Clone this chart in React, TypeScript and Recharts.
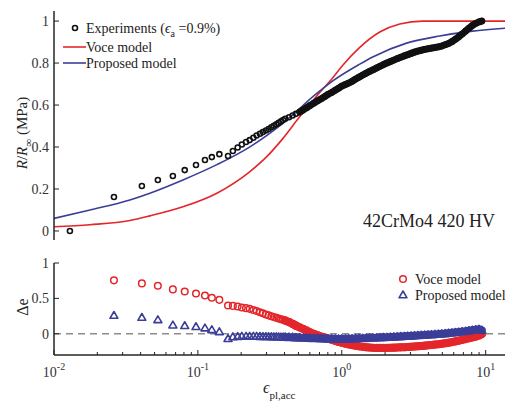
import React from 'react';
import { ComposedChart, Line, Scatter, XAxis, YAxis, ReferenceLine, Legend } from 'recharts';

const RED = '#e4262b';
const BLUE = '#3b3e98';
const INK = '#222';
const FONT = '"Liberation Serif", "Times New Roman", serif';

// experiments, sparse start (strain, R/Rinf)
const expStrainSparse = [0.0129, 0.0261, 0.0408, 0.0527, 0.067, 0.081, 0.097, 0.112, 0.125, 0.141];
const expRSparse = [0.0, 0.162, 0.214, 0.243, 0.262, 0.29, 0.314, 0.338, 0.352, 0.366];

// experiments, dense part
const denseStrain = [
  0.162, 0.175, 0.189, 0.202, 0.216, 0.229, 0.243, 0.256, 0.27, 0.283,
  0.297, 0.31, 0.324, 0.337, 0.351, 0.364, 0.378, 0.391, 0.405, 0.43,
  0.455, 0.48, 0.51, 0.54, 0.57, 0.6, 0.64, 0.68, 0.72, 0.76,
  0.8, 0.85, 0.9, 0.95, 1.0, 1.06, 1.12, 1.18, 1.25, 1.32,
  1.4, 1.48, 1.56, 1.65, 1.75, 1.85, 1.95, 2.06, 2.18, 2.3,
  2.43, 2.57, 2.72, 2.87, 3.03, 3.2, 3.38, 3.57, 3.77, 3.98,
  4.2, 4.44, 4.69, 4.95, 5.23, 5.52, 5.83, 6.15, 6.5, 6.86,
  7.25, 7.65, 8.08, 8.53, 9.0, 9.4,
];
const expRDense = [
  0.357, 0.381, 0.398, 0.412, 0.424, 0.433, 0.444, 0.455, 0.463, 0.471,
  0.479, 0.486, 0.494, 0.501, 0.508, 0.515, 0.522, 0.529, 0.535, 0.542,
  0.55, 0.558, 0.567, 0.577, 0.587, 0.597, 0.609, 0.62, 0.63, 0.64,
  0.65, 0.66, 0.67, 0.68, 0.69, 0.698, 0.705, 0.713, 0.724, 0.733,
  0.743, 0.752, 0.76, 0.768, 0.777, 0.785, 0.793, 0.8, 0.807, 0.814,
  0.821, 0.828, 0.834, 0.84, 0.846, 0.852, 0.857, 0.861, 0.865, 0.868,
  0.871, 0.874, 0.877, 0.881, 0.887, 0.893, 0.902, 0.913, 0.925, 0.938,
  0.952, 0.966, 0.979, 0.989, 0.996, 1.0,
];

// model curves
const voceStrain = [0.01, 0.0178, 0.0337, 0.0464, 0.0787, 0.1355, 0.23, 0.301, 0.389, 0.511, 0.571, 0.67, 0.866, 1.016, 1.334, 1.837, 2.53, 3.65, 6, 15];
const voceR = [0.02, 0.03, 0.05, 0.072, 0.115, 0.18, 0.283, 0.354, 0.44, 0.545, 0.585, 0.643, 0.73, 0.79, 0.875, 0.948, 0.986, 1.0, 1.0, 1.0];
const propStrain = [0.01, 0.0178, 0.0337, 0.0464, 0.0787, 0.1355, 0.23, 0.389, 0.67, 0.866, 1.334, 1.64, 2.82, 4.79, 8.1, 15];
const propR = [0.06, 0.1, 0.148, 0.18, 0.243, 0.316, 0.401, 0.513, 0.655, 0.715, 0.795, 0.829, 0.895, 0.929, 0.952, 0.968];

// relative error, sparse start (no point at the first strain)
const deStrainSparse = [0.0261, 0.0408, 0.0527, 0.067, 0.081, 0.097, 0.112, 0.125, 0.141];
const deVoceSparse = [0.755, 0.712, 0.678, 0.627, 0.598, 0.57, 0.54, 0.51, 0.479];
const dePropSparse = [0.258, 0.23, 0.197, 0.122, 0.113, 0.099, 0.08, 0.056, 0.028];

// relative error, dense part (same strains as denseStrain)
const deVoceDense = [
  0.4, 0.394, 0.385, 0.372, 0.362, 0.352, 0.335, 0.322, 0.305, 0.29,
  0.272, 0.26, 0.248, 0.236, 0.225, 0.215, 0.205, 0.197, 0.186, 0.165,
  0.14, 0.115, 0.09, 0.068, 0.045, 0.022, -0.002, -0.022, -0.038, -0.052,
  -0.066, -0.085, -0.1, -0.115, -0.127, -0.14, -0.15, -0.16, -0.17, -0.178,
  -0.185, -0.19, -0.195, -0.198, -0.2, -0.2, -0.2, -0.2, -0.198, -0.196,
  -0.194, -0.192, -0.19, -0.187, -0.184, -0.18, -0.177, -0.173, -0.168, -0.163,
  -0.158, -0.153, -0.148, -0.142, -0.135, -0.127, -0.118, -0.108, -0.097, -0.086,
  -0.075, -0.063, -0.052, -0.04, -0.025, -0.005,
];
const dePropDense = [
  -0.07, -0.045, -0.04, -0.038, -0.036, -0.036, -0.037, -0.038, -0.039, -0.04,
  -0.041, -0.042, -0.043, -0.044, -0.045, -0.046, -0.047, -0.048, -0.049, -0.05,
  -0.052, -0.054, -0.056, -0.058, -0.06, -0.062, -0.064, -0.066, -0.068, -0.07,
  -0.071, -0.072, -0.073, -0.073, -0.073, -0.072, -0.071, -0.07, -0.068, -0.066,
  -0.064, -0.062, -0.06, -0.058, -0.056, -0.054, -0.052, -0.05, -0.047, -0.045,
  -0.042, -0.039, -0.036, -0.033, -0.03, -0.027, -0.024, -0.021, -0.018, -0.015,
  -0.012, -0.009, -0.005, -0.001, 0.003, 0.008, 0.013, 0.018, 0.024, 0.03,
  0.036, 0.043, 0.05, 0.057, 0.063, 0.05,
];

// from this strain on the markers merge into a solid band
const SOLID_FROM = 0.5;

const xTicks = [
  0.01, 0.02, 0.03, 0.04, 0.05, 0.06, 0.07, 0.08, 0.09,
  0.1, 0.2, 0.3, 0.4, 0.5, 0.6, 0.7, 0.8, 0.9,
  1, 2, 3, 4, 5, 6, 7, 8, 9, 10,
];
const topYTicks = [0, 0.2, 0.4, 0.6, 0.8, 1];
const bottomYTicks = [0, 0.5, 1];

const X_DOMAIN: [number, number] = [0.01, 15];

const zip = (xs: number[], ys: number[]) => xs.map((x, i) => ({ x, y: ys[i] }));

const expAll = zip([...expStrainSparse, ...denseStrain], [...expRSparse, ...expRDense]);
const expLoose = expAll.filter((d) => d.x < SOLID_FROM);
const expSolid = expAll.filter((d) => d.x >= SOLID_FROM);
const voceData = zip(voceStrain, voceR);
const propData = zip(propStrain, propR);
const deVoceAll = zip([...deStrainSparse, ...denseStrain], [...deVoceSparse, ...deVoceDense]);
const dePropAll = zip([...deStrainSparse, ...denseStrain], [...dePropSparse, ...dePropDense]);
const deVoceLoose = deVoceAll.filter((d) => d.x < SOLID_FROM);
const deVoceSolid = deVoceAll.filter((d) => d.x >= SOLID_FROM - 0.1);
const dePropLoose = dePropAll.filter((d) => d.x < SOLID_FROM);
const dePropSolid = dePropAll.filter((d) => d.x >= SOLID_FROM - 0.1);

const isDecade = (v: number) => Math.abs(Math.log10(v) - Math.round(Math.log10(v))) < 1e-9;

const bottomTick = (props: any) => {
  const { x, y, payload } = props;
  const major = isDecade(payload.value);
  return (
    <g>
      <line x1={x} x2={x} y1={y} y2={y - (major ? 5 : 3)} stroke={INK} strokeWidth={1} />
      {major && (
        <text x={x} y={y + 22} textAnchor="middle" fontFamily={FONT} fontSize={14} fill="#333">
          10<tspan dy={-7} fontSize={10}>{Math.round(Math.log10(payload.value))}</tspan>
        </text>
      )}
    </g>
  );
};

const topTick = (props: any) => {
  const { x, y, payload } = props;
  const major = isDecade(payload.value);
  return <line x1={x} x2={x} y1={y} y2={y + (major ? 5 : 3)} stroke={INK} strokeWidth={1} />;
};

const leftTick = (props: any) => {
  const { x, y, payload } = props;
  return (
    <g>
      <line x1={x} x2={x + 5} y1={y} y2={y} stroke={INK} strokeWidth={1} />
      <text x={x - 5} y={y + 5} textAnchor="end" fontFamily={FONT} fontSize={14} fill="#333">
        {payload.value}
      </text>
    </g>
  );
};

const circleShape = (props: any) => (
  <circle cx={props.cx} cy={props.cy} r={2.5} fill="none" stroke="#111" strokeWidth={1.6} />
);
const redCircle = (props: any) => (
  <circle cx={props.cx} cy={props.cy} r={3.3} fill="none" stroke={RED} strokeWidth={1.5} />
);
const blueTriangle = (props: any) => {
  const { cx, cy } = props;
  return (
    <polygon
      points={`${cx},${cy - 4} ${cx - 4},${cy + 2.8} ${cx + 4},${cy + 2.8}`}
      fill="none"
      stroke={BLUE}
      strokeWidth={1.6}
      strokeLinejoin="round"
    />
  );
};

const band = (color: string, width: number) => ({
  stroke: color,
  strokeWidth: width,
  strokeLinecap: 'round' as const,
  strokeLinejoin: 'round' as const,
});

const topYTitle = () => (
  <text transform="rotate(-90, 27, 133)" x={27} y={133} textAnchor="middle" fontFamily={FONT} fontSize={15} fill={INK}>
    <tspan fontStyle="italic">R</tspan>/<tspan fontStyle="italic">R</tspan>
    <tspan dy={5} fontSize={11}>∞</tspan>
    <tspan dy={-5}> (MPa)</tspan>
  </text>
);

const bottomYTitle = () => (
  <text transform="rotate(-90, 28, 62)" x={28} y={62} textAnchor="middle" fontFamily={FONT} fontSize={16} fill={INK}>
    Δe
  </text>
);

const xTitle = () => (
  <text x={263} y={148} fontFamily={FONT} fontSize={16} fill={INK}>
    <tspan fontStyle="italic">ϵ</tspan>
    <tspan dy={6} fontSize={11}>pl,acc</tspan>
  </text>
);

const topOverlay = () => (
  <svg width={511} height={245} style={{ display: 'block', pointerEvents: 'none' }}>
    <circle cx={75} cy={28} r={2.5} fill="none" stroke="#111" strokeWidth={1.6} />
    <text x={86} y={33} fontFamily={FONT} fontSize={14} fill={INK}>
      Experiments (<tspan fontStyle="italic">ϵ</tspan>
      <tspan dy={4} fontSize={10}>a</tspan>
      <tspan dy={-4}> =0.9%)</tspan>
    </text>
    <line x1={63} x2={86} y1={47} y2={47} stroke={RED} strokeWidth={1.6} />
    <text x={86} y={52} fontFamily={FONT} fontSize={14} fill={INK}>Voce model</text>
    <line x1={63} x2={86} y1={63} y2={63} stroke={BLUE} strokeWidth={1.6} />
    <text x={86} y={68} fontFamily={FONT} fontSize={14} fill={INK}>Proposed model</text>
    <text x={495} y={227} textAnchor="end" fontFamily={FONT} fontSize={18} fill={INK}>42CrMo4 420 HV</text>
  </svg>
);

const bottomOverlay = () => (
  <svg width={511} height={158} style={{ display: 'block', pointerEvents: 'none' }}>
    {redCircle({ cx: 403, cy: 34 })}
    <text x={415} y={39} fontFamily={FONT} fontSize={14} fill={INK}>Voce model</text>
    {blueTriangle({ cx: 403, cy: 50 })}
    <text x={415} y={55} fontFamily={FONT} fontSize={14} fill={INK}>Proposed model</text>
  </svg>
);

const axisLine = { stroke: '#262626', strokeWidth: 1.5 };

const App = () => (
  <div style={{ position: 'fixed', left: 0, top: 0, width: 505, height: 403, overflow: 'hidden', background: '#fff' }}>
    <ComposedChart width={511} height={245} margin={{ top: 11, right: 0, bottom: 5, left: 0 }}>
      <XAxis xAxisId="b" dataKey="x" type="number" scale="log" domain={X_DOMAIN} allowDataOverflow
        ticks={xTicks} tick={false} tickLine={false} height={0} axisLine={axisLine} />
      <XAxis xAxisId="t" orientation="top" type="number" scale="log" domain={X_DOMAIN} allowDataOverflow
        ticks={xTicks} tick={false} tickLine={false} height={0} axisLine={axisLine} />
      <YAxis type="number" domain={[-0.043, 1.048]} allowDataOverflow ticks={topYTicks} interval={0}
        tick={leftTick} tickLine={false} tickSize={0} tickMargin={0} width={54} axisLine={axisLine} label={topYTitle} />
      <Line xAxisId="b" data={voceData} dataKey="y" type="monotone" stroke={RED} strokeWidth={1.6} dot={false} isAnimationActive={false} />
      <Line xAxisId="b" data={propData} dataKey="y" type="monotone" stroke={BLUE} strokeWidth={1.6} dot={false} isAnimationActive={false} />
      <Scatter xAxisId="b" data={expLoose} dataKey="y" shape={circleShape} isAnimationActive={false} />
      <Scatter xAxisId="b" data={expSolid} dataKey="y" shape={circleShape} line={band('#111', 7)} lineType="joint" isAnimationActive={false} />
      <Legend layout="horizontal" verticalAlign="middle" align="center" content={topOverlay}
        wrapperStyle={{ top: 0, left: 0, width: 511, height: 245 }} />
    </ComposedChart>
    <ComposedChart width={511} height={158} margin={{ top: 18, right: 0, bottom: 0, left: 0 }}>
      <XAxis xAxisId="b" dataKey="x" type="number" scale="log" domain={X_DOMAIN} allowDataOverflow
        ticks={xTicks} interval={0} tick={bottomTick} tickLine={false} tickSize={0} tickMargin={0}
        height={48} axisLine={axisLine} label={xTitle} />
      <XAxis xAxisId="t" orientation="top" type="number" scale="log" domain={X_DOMAIN} allowDataOverflow
        ticks={xTicks} interval={0} tick={topTick} tickLine={false} tickSize={0} tickMargin={0}
        height={0} axisLine={axisLine} />
      <YAxis type="number" domain={[-0.3, 1]} allowDataOverflow ticks={bottomYTicks} interval={0}
        tick={leftTick} tickLine={false} tickSize={0} tickMargin={0} width={54} axisLine={axisLine} label={bottomYTitle} />
      <ReferenceLine xAxisId="b" y={0} stroke="#8c8c8c" strokeWidth={1.3} strokeDasharray="7 5" />
      <Scatter xAxisId="b" data={deVoceLoose} dataKey="y" shape={redCircle} isAnimationActive={false} />
      <Scatter xAxisId="b" data={deVoceSolid} dataKey="y" shape={redCircle} line={band(RED, 8)} lineType="joint" isAnimationActive={false} />
      <Scatter xAxisId="b" data={dePropLoose} dataKey="y" shape={blueTriangle} isAnimationActive={false} />
      <Scatter xAxisId="b" data={dePropSolid} dataKey="y" shape={blueTriangle} line={band(BLUE, 8)} lineType="joint" isAnimationActive={false} />
      <Legend layout="horizontal" verticalAlign="middle" align="center" content={bottomOverlay}
        wrapperStyle={{ top: 0, left: 0, width: 511, height: 158 }} />
    </ComposedChart>
  </div>
);

export default App;
